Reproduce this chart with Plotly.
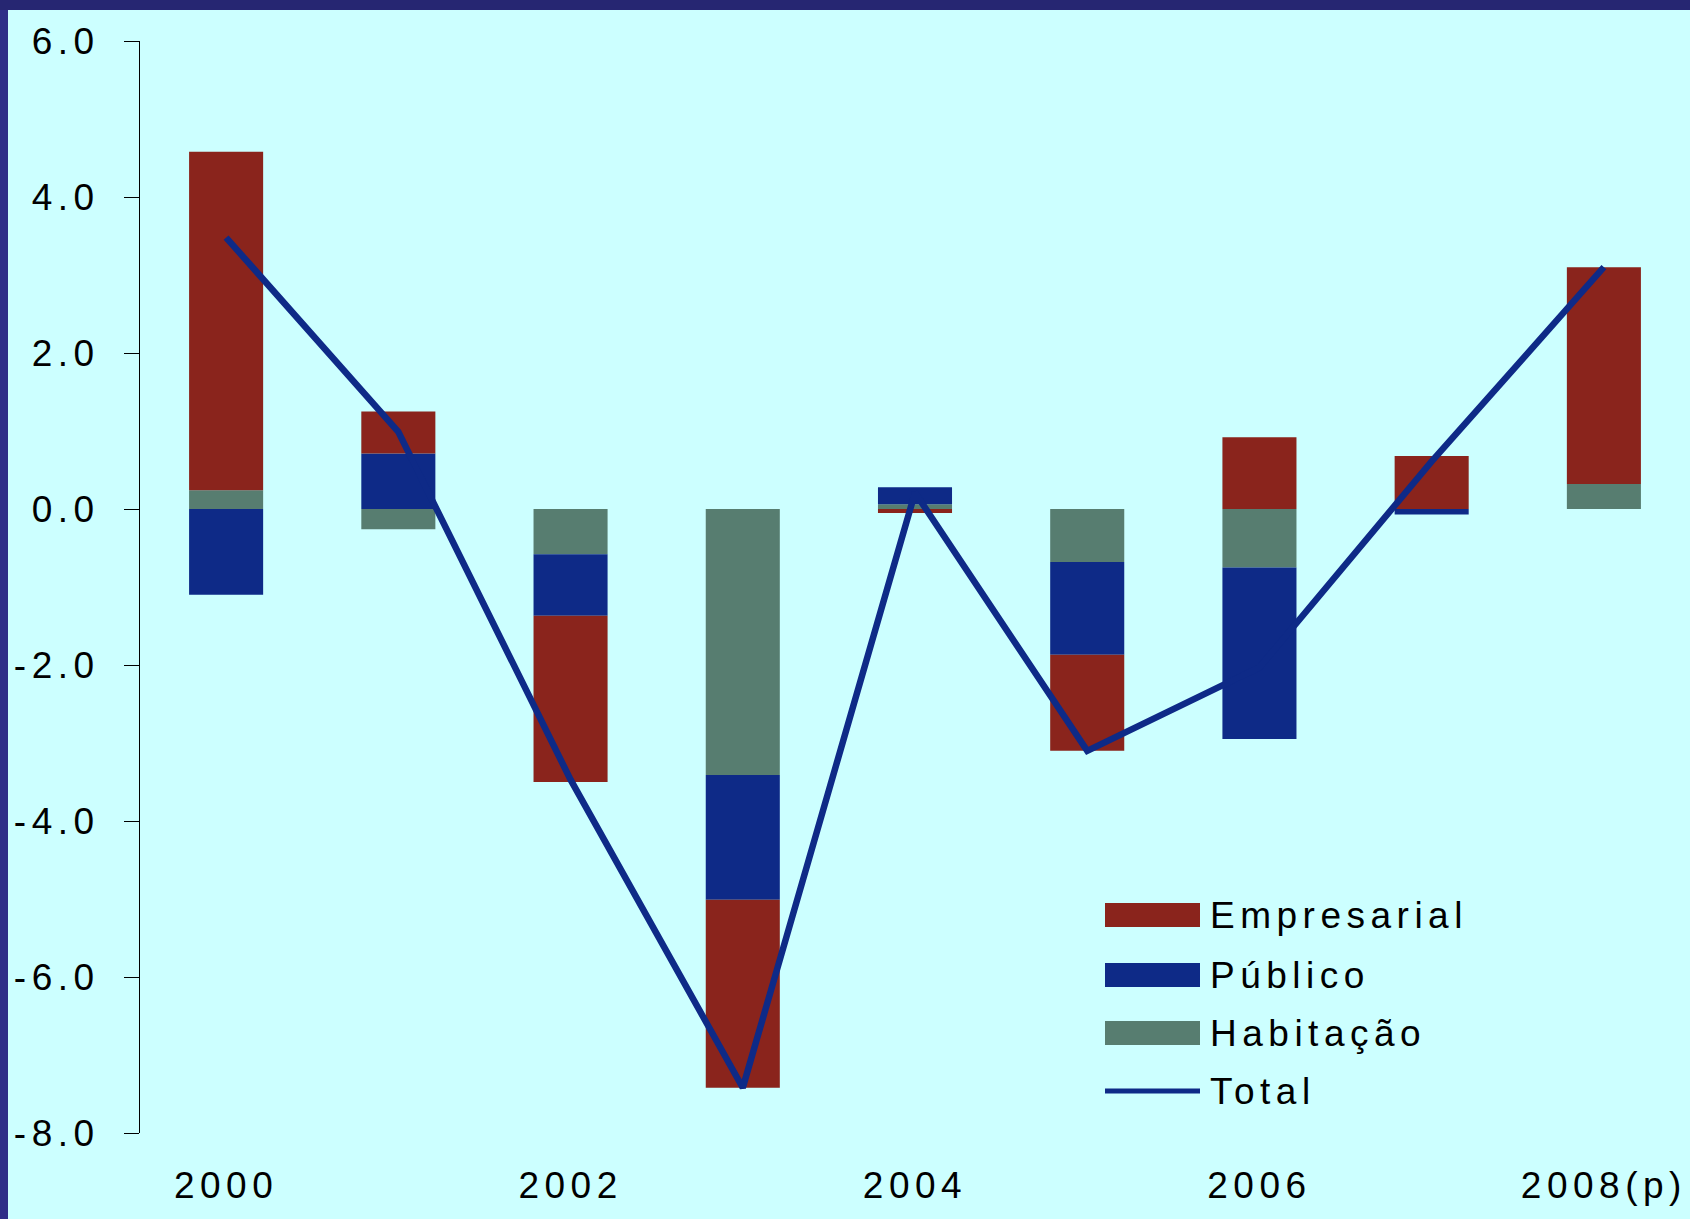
import plotly.graph_objects as go

# ---------------- data ----------------
years = ["2000", "2001", "2002", "2003", "2004", "2005", "2006", "2007", "2008(p)"]
habitacao = [0.24, -0.26, -0.58, -3.41, 0.06, -0.68, -0.75, 0.00, 0.32]
publico = [-1.10, 0.71, -0.79, -1.60, 0.22, -1.19, -2.20, -0.07, 0.00]
empresarial = [4.34, 0.54, -2.13, -2.41, -0.05, -1.23, 0.92, 0.68, 2.78]
total = [3.48, 0.99, -3.47, -7.42, 0.21, -3.10, -2.03, 0.61, 3.10]
x_tick_labels = ["2000", "2002", "2004", "2006", "2008(p)"]
y_tick_values = [6, 4, 2, 0, -2, -4, -6, -8]
y_tick_text = ["6.0", "4.0", "2.0", "0.0", "-2.0", "-4.0", "-6.0", "-8.0"]
legend_names = ["Empresarial", "Público", "Habitação", "Total"]

# ---------------- style ----------------
C_EMP = "#8A241C"
C_PUB = "#0E2A87"
C_HAB = "#577D70"
C_TOT = "#0E2A87"
BG = "#CCFFFF"
BORDER_TOP = "#262672"
BORDER_LEFT = "#2E2E88"
FONT = "Liberation Sans, Arial, sans-serif"
FS = 37
W, H = 1690, 1219
ML, MR, MT, MB = 140, 0, 41, 86
PW, PH = W - ML - MR, H - MT - MB

fig = go.Figure()
fig.add_trace(go.Bar(x=years, y=habitacao, name="Habitação", marker=dict(color=C_HAB, line=dict(width=0)), showlegend=False))
fig.add_trace(go.Bar(x=years, y=publico, name="Público", marker=dict(color=C_PUB, line=dict(width=0)), showlegend=False))
fig.add_trace(go.Bar(x=years, y=empresarial, name="Empresarial", marker=dict(color=C_EMP, line=dict(width=0)), showlegend=False))
fig.add_trace(go.Scatter(x=years, y=total, name="Total", mode="lines",
                         line=dict(color=C_TOT, width=6.5), showlegend=False))

ymin, ymax = -8, 6
fig.update_layout(
    width=W, height=H,
    margin=dict(l=ML, r=MR, t=MT, b=MB, pad=0),
    paper_bgcolor=BG, plot_bgcolor=BG,
    barmode="relative", bargap=0.57,
    showlegend=False,
    font=dict(family=FONT, size=FS, color="black"),
    xaxis=dict(
        type="category", categoryorder="array", categoryarray=years,
        tickmode="array", tickvals=x_tick_labels, ticktext=x_tick_labels,
        showline=False, showgrid=False, zeroline=False, ticks="",
        ticklabelstandoff=27, tickfont=dict(size=FS),
    ),
    xaxis2=dict(
        overlaying="x", anchor="free", position=(0 - ymin) / (ymax - ymin),
        range=[-0.5, len(years) - 0.5], type="linear",
        tickmode="array", tickvals=[i + 0.5 for i in range(len(years) - 1)],
        ticks="outside", ticklen=10, tickcolor="black", tickwidth=1,
        showticklabels=False, showline=True, linecolor="black", linewidth=1.5,
        showgrid=False, zeroline=False,
    ),
    yaxis=dict(
        range=[ymin, ymax], tickmode="array", tickvals=y_tick_values, ticktext=y_tick_text,
        ticks="outside", ticklen=15, tickcolor="black",
        showline=True, linecolor="black", linewidth=1, showgrid=False,
        zeroline=False, ticklabelstandoff=17, tickfont=dict(size=FS),
    ),
)

# frame borders (top and left)
fig.add_shape(type="rect", xref="paper", yref="paper", layer="above",
              x0=-ML / PW, x1=(8 - ML) / PW, y0=-MB / PH, y1=1 + MT / PH,
              fillcolor=BORDER_LEFT, line=dict(width=0))
fig.add_shape(type="rect", xref="paper", yref="paper", layer="above",
              x0=-ML / PW, x1=1, y0=1 + (MT - 10) / PH, y1=1 + MT / PH,
              fillcolor=BORDER_TOP, line=dict(width=0))

# manual legend
def px_x(p):
    return (p - ML) / PW

def px_y(p):
    return 1 - (p - MT) / PH

rows_y = [915, 975, 1033, 1091]
colors = [C_EMP, C_PUB, C_HAB, C_TOT]
x0, x1 = 1105, 1200
for name, col, yc in zip(legend_names, colors, rows_y):
    if name == "Total":
        fig.add_shape(type="line", xref="paper", yref="paper",
                      x0=px_x(x0), x1=px_x(x1), y0=px_y(yc), y1=px_y(yc),
                      line=dict(color=col, width=5))
    else:
        fig.add_shape(type="rect", xref="paper", yref="paper",
                      x0=px_x(x0), x1=px_x(x1), y0=px_y(yc + 12), y1=px_y(yc - 12),
                      fillcolor=col, line=dict(width=0))
    fig.add_annotation(text=name, xref="paper", yref="paper", align="left",
                       x=px_x(x1 + 8), y=px_y(yc), xanchor="left", yanchor="middle",
                       showarrow=False, font=dict(size=FS, family=FONT, color="black"))

post = """
document.body.style.margin = '0';
document.body.style.padding = '0';
var gd = document.getElementById('{plot_id}');
function ls(){ gd.querySelectorAll('text').forEach(function(t){ t.style.letterSpacing='5.5px'; }); }
ls();
if (gd.on) { gd.on('plotly_afterplot', ls); }
"""
fig.write_html("out.html", post_script=post, config={"displayModeBar": False})
